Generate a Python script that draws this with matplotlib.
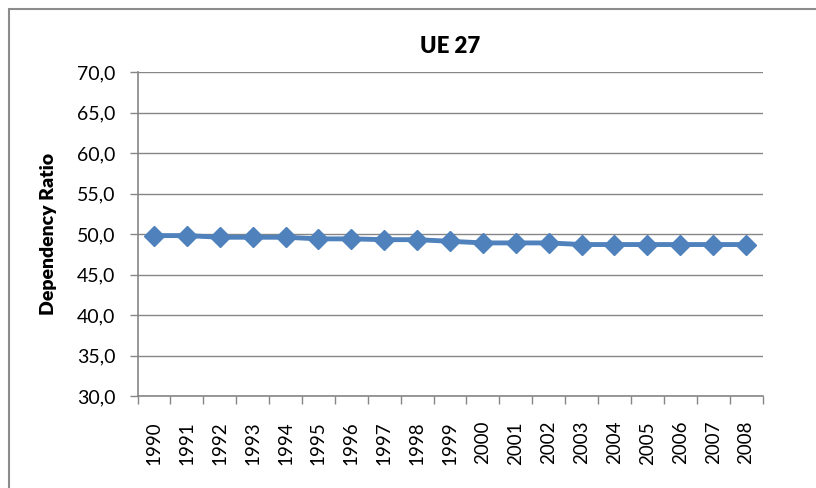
import numpy as np
import matplotlib
matplotlib.use('Agg')
import matplotlib.pyplot as plt
from matplotlib.patches import Rectangle

years = [str(y) for y in range(1990, 2009)]
ratio = [49.8, 49.8, 49.6, 49.6, 49.6, 49.4, 49.4, 49.3, 49.3, 49.1,
         48.9, 48.9, 48.9, 48.7, 48.7, 48.7, 48.7, 48.7, 48.7]
yticks = np.arange(30, 71, 5)
ytick_labels = ['%.1f' % v for v in yticks]
ytick_labels = [s.replace('.', ',') for s in ytick_labels]

plt.rcParams['font.family'] = ['Lato', 'DejaVu Sans']

W, H = 816, 488
fig = plt.figure(figsize=(W / 100, H / 100), dpi=100)

# outer chart border (only top/left visible in the crop)
fig.patches.append(Rectangle((9 / W, -0.1), 1.2, 1 - 9 / H + 0.1,
                             transform=fig.transFigure, fill=False,
                             edgecolor='#8c8c8c', linewidth=1.5))

ax = fig.add_axes([137.5 / W, 1 - 396 / H, 625 / W, 324 / H])

x = np.arange(len(years))
ax.plot(x, ratio, color='#4F81BD', linewidth=3.5, marker='D',
        markersize=10, markerfacecolor='#4F81BD', markeredgecolor='#4F81BD',
        zorder=3)

ax.set_xlim(-0.5, len(years) - 0.5)
ax.set_ylim(30, 70)
ax.set_yticks(yticks)
ax.set_yticklabels(ytick_labels, fontsize=14)
ax.yaxis.grid(True, color='#868686', linewidth=1)
ax.set_axisbelow(True)

ax.set_xticks(x)
ax.set_xticklabels(years, rotation=90, fontsize=13.5)
ax.tick_params(axis='x', length=0, pad=18)
ax.set_xticks(np.arange(-0.5, len(years), 1), minor=True)
ax.tick_params(axis='x', which='minor', length=6, color='#868686', width=1)
ax.tick_params(axis='y', length=6, color='#868686', width=1, pad=10)

for s in ['top', 'right']:
    ax.spines[s].set_visible(False)
for s in ['left', 'bottom']:
    ax.spines[s].set_color('#868686')
    ax.spines[s].set_linewidth(1.2)

ax.set_ylabel('Dependency Ratio', fontsize=14, fontweight='heavy', labelpad=14)
ax.set_title('UE 27', fontsize=16, fontweight='heavy', pad=14)

fig.savefig('out.png', dpi=100)
